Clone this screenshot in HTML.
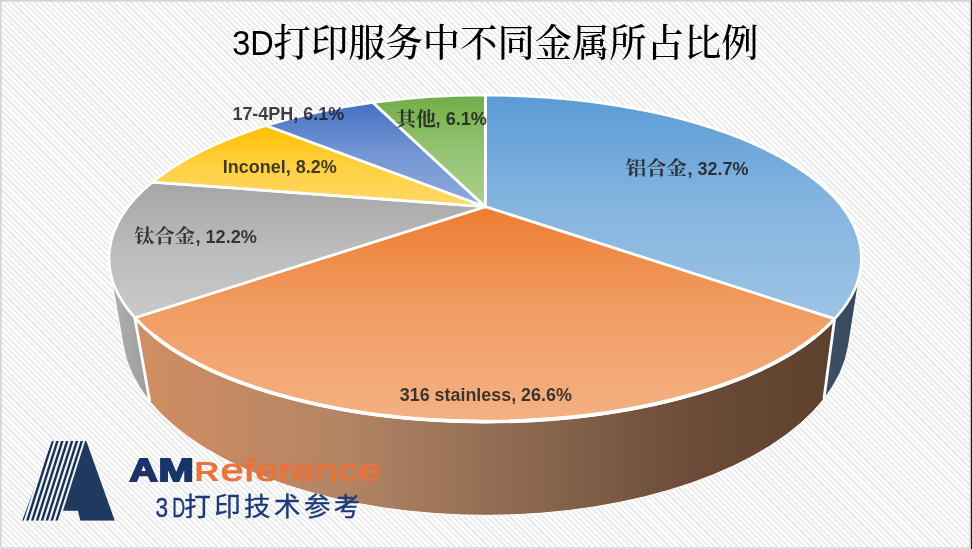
<!DOCTYPE html>
<html lang="zh-CN"><head><meta charset="utf-8"><title>3D打印服务中不同金属所占比例</title>
<style>
html,body{margin:0;padding:0;background:#fff;}
body{width:972px;height:549px;overflow:hidden;position:relative;}
#bg{position:absolute;left:0;top:0;width:972px;height:549px;box-sizing:border-box;
 background:repeating-linear-gradient(45deg,#fdfdfd 0,#fdfdfd 2.4px,#e9e9e9 2.4px,#e9e9e9 4px);
 }
svg{position:absolute;left:0;top:0;}
</style></head><body>
<div id="bg"></div>
<svg width="972" height="549" viewBox="0 0 972 549">
<defs>
<linearGradient id="gblue" x1="0" y1="0" x2="0" y2="1"><stop offset="0" stop-color="#5b9bd5"/><stop offset="0.5" stop-color="#85b5e0"/><stop offset="1" stop-color="#9dc3e6"/></linearGradient>
<linearGradient id="gorange" x1="0" y1="0" x2="0" y2="1"><stop offset="0" stop-color="#ed7d31"/><stop offset="0.5" stop-color="#f19e65"/><stop offset="1" stop-color="#f4b183"/></linearGradient>
<linearGradient id="ggrey" x1="0" y1="0" x2="0" y2="1"><stop offset="0" stop-color="#a5a5a5"/><stop offset="0.5" stop-color="#bcbcbc"/><stop offset="1" stop-color="#c9c9c9"/></linearGradient>
<linearGradient id="gyellow" x1="0" y1="0" x2="0" y2="1"><stop offset="0" stop-color="#ffc000"/><stop offset="0.5" stop-color="#ffd041"/><stop offset="1" stop-color="#ffd966"/></linearGradient>
<linearGradient id="gdblue" x1="0" y1="0" x2="0" y2="1"><stop offset="0" stop-color="#4472c4"/><stop offset="0.5" stop-color="#7496d3"/><stop offset="1" stop-color="#8faadc"/></linearGradient>
<linearGradient id="ggreen" x1="0" y1="0" x2="0" y2="1"><stop offset="0" stop-color="#70ad47"/><stop offset="0.5" stop-color="#94c474"/><stop offset="1" stop-color="#a9d18e"/></linearGradient>
<linearGradient id="sorange" gradientUnits="userSpaceOnUse" x1="140" y1="0" x2="830" y2="0"><stop offset="0" stop-color="#d08e63"/><stop offset="0.3" stop-color="#b38464"/><stop offset="0.55" stop-color="#8d6950"/><stop offset="0.8" stop-color="#6c4c38"/><stop offset="1" stop-color="#5d402d"/></linearGradient>
<linearGradient id="sgrey" gradientUnits="userSpaceOnUse" x1="115" y1="0" x2="155" y2="0"><stop offset="0" stop-color="#adadad"/><stop offset="1" stop-color="#9a9a9a"/></linearGradient>
<linearGradient id="sblue" gradientUnits="userSpaceOnUse" x1="820" y1="0" x2="862" y2="0"><stop offset="0" stop-color="#3f5268"/><stop offset="1" stop-color="#33475c"/></linearGradient>
<clipPath id="aclip"><polygon points="51.9,440.9 86.3,440.9 114.8,520.7 80.3,520.7 77.9,510.7 61.5,510.7 57.8,520.7 22.2,520.7"/></clipPath>
</defs>
<path d="M860.48 269.72 A376.20 163.30 0 0 1 834.58 318.85 L823.92 398.95 A363.87 184.68 0 0 0 848.50 345.78 Z" fill="url(#sblue)" stroke="#fff" stroke-width="1.0" stroke-linejoin="round"/>
<path d="M134.78 317.71 A376.20 163.30 0 0 1 109.92 269.72 L123.20 345.78 A363.87 184.68 0 0 0 149.70 401.36 Z" fill="url(#sgrey)" stroke="#fff" stroke-width="1.0" stroke-linejoin="round"/>
<path d="M834.58 318.85 A376.20 163.30 0 0 1 134.78 317.71 L149.70 401.36 A363.87 184.68 0 0 0 823.92 398.95 Z" fill="url(#sorange)" stroke="#fff" stroke-width="1.0" stroke-linejoin="round"/>
<path d="M834.58 318.85 L823.92 398.95 M134.78 317.71 L149.70 401.36" stroke="#fff" stroke-width="2.8" stroke-linecap="butt" fill="none"/>
<path d="M485.30 206.70 L485.40 95.00 A376.20 163.30 0 0 1 834.58 318.85 Z" fill="url(#gblue)" stroke="#fff" stroke-width="2.7" stroke-linejoin="round"/>
<path d="M485.30 206.70 L834.58 318.85 A376.20 163.30 0 0 1 134.78 317.71 Z" fill="url(#gorange)" stroke="#fff" stroke-width="2.7" stroke-linejoin="round"/>
<path d="M485.30 206.70 L134.78 317.71 A376.20 163.30 0 0 1 152.53 182.05 Z" fill="url(#ggrey)" stroke="#fff" stroke-width="2.7" stroke-linejoin="round"/>
<path d="M485.30 206.70 L152.53 182.05 A376.20 163.30 0 0 1 266.09 125.56 Z" fill="url(#gyellow)" stroke="#fff" stroke-width="2.7" stroke-linejoin="round"/>
<path d="M485.30 206.70 L266.09 125.56 A376.20 163.30 0 0 1 372.89 102.45 Z" fill="url(#gdblue)" stroke="#fff" stroke-width="2.7" stroke-linejoin="round"/>
<path d="M485.30 206.70 L372.89 102.45 A376.20 163.30 0 0 1 485.40 95.00 Z" fill="url(#ggreen)" stroke="#fff" stroke-width="2.7" stroke-linejoin="round"/>
<path d="M815.37 336.57 A376.20 163.30 0 0 1 153.68 335.49 " fill="none" stroke="#fff" stroke-width="3.7"/>
<path d="M834.58 318.85 A376.20 163.30 0 0 1 134.78 317.71 " fill="none" stroke="#fff" stroke-width="3.1"/>
<g clip-path="url(#aclip)"><polygon points="51.9,440.9 86.3,440.9 114.8,520.7 80.3,520.7 77.9,510.7 61.5,510.7 57.8,520.7 22.2,520.7" fill="#eef3fa"/><polygon points="16.34,520.7 18.84,520.7 44.14,440.9 41.64,440.9" fill="#1b3150"/><polygon points="21.21,520.7 23.71,520.7 49.01,440.9 46.51,440.9" fill="#1b3150"/><polygon points="26.08,520.7 28.58,520.7 53.88,440.9 51.38,440.9" fill="#1b3150"/><polygon points="30.95,520.7 33.45,520.7 58.75,440.9 56.25,440.9" fill="#1b3150"/><polygon points="35.82,520.7 38.32,520.7 63.62,440.9 61.12,440.9" fill="#1b3150"/><polygon points="40.69,520.7 43.19,520.7 68.49,440.9 65.99,440.9" fill="#1b3150"/><polygon points="45.56,520.7 48.06,520.7 73.36,440.9 70.86,440.9" fill="#1b3150"/><polygon points="50.43,520.7 52.93,520.7 78.23,440.9 75.73,440.9" fill="#1b3150"/><polygon points="55.30,520.7 57.80,520.7 83.10,440.9 80.60,440.9" fill="#1b3150"/><polygon points="59.87,520.7 120,520.7 120,440.9 85.17,440.9" fill="#1e3a5f"/></g>
<text y="56.2" fill="#000"><tspan x="232.2" y="54.9" font-size="34.4" font-family='"Liberation Sans", sans-serif' textLength="41.5" lengthAdjust="spacingAndGlyphs">3D</tspan><tspan x="273.6" y="56.2" font-size="37.8" font-weight="500" font-family='"Liberation Serif", "Noto Serif CJK SC", serif' textLength="485" lengthAdjust="spacingAndGlyphs">打印服务中不同金属所占比例</tspan></text>
<text fill="#1c1c1c" fill-opacity="0.84"><tspan x="232.4" y="119.5" font-size="17.6" font-weight="bold" font-family='"Liberation Sans", sans-serif' textLength="111.8" lengthAdjust="spacingAndGlyphs">17-4PH, 6.1%</tspan></text>
<text fill="#1c1c1c" fill-opacity="0.84"><tspan x="222.8" y="172.6" font-size="17.6" font-weight="bold" font-family='"Liberation Sans", sans-serif' textLength="114.0" lengthAdjust="spacingAndGlyphs">Inconel, 8.2%</tspan></text>
<text fill="#1c1c1c" fill-opacity="0.84"><tspan x="399.8" y="401.0" font-size="17.6" font-weight="bold" font-family='"Liberation Sans", sans-serif' textLength="172" lengthAdjust="spacingAndGlyphs">316 stainless, 26.6%</tspan></text>
<text fill="#1c1c1c" fill-opacity="0.84"><tspan x="395.8" y="125.6" font-size="19.6" font-weight="700" font-family='"Liberation Serif", "Noto Serif CJK SC", serif' textLength="40.2" lengthAdjust="spacingAndGlyphs">其他</tspan><tspan x="435.6" y="125.3" font-size="17.6" font-weight="bold" font-family='"Liberation Sans", sans-serif' textLength="51.3" lengthAdjust="spacingAndGlyphs">, 6.1%</tspan></text>
<text fill="#1c1c1c" fill-opacity="0.84"><tspan x="134.2" y="242.6" font-size="19.6" font-weight="700" font-family='"Liberation Serif", "Noto Serif CJK SC", serif' textLength="60.8" lengthAdjust="spacingAndGlyphs">钛合金</tspan><tspan x="195.4" y="242.6" font-size="17.6" font-weight="bold" font-family='"Liberation Sans", sans-serif' textLength="61.6" lengthAdjust="spacingAndGlyphs">, 12.2%</tspan></text>
<text fill="#1c1c1c" fill-opacity="0.84"><tspan x="625.8" y="174.8" font-size="19.6" font-weight="700" font-family='"Liberation Serif", "Noto Serif CJK SC", serif' textLength="61.2" lengthAdjust="spacingAndGlyphs">铝合金</tspan><tspan x="687.6" y="174.6" font-size="17.6" font-weight="bold" font-family='"Liberation Sans", sans-serif' textLength="60.9" lengthAdjust="spacingAndGlyphs">, 32.7%</tspan></text>
<text y="481" font-size="30.7" font-weight="bold" fill="#1a3468" stroke="#1a3468" stroke-width="1.8" stroke-linejoin="miter" font-family='"Liberation Sans", sans-serif'><tspan x="129.6" textLength="28.2" lengthAdjust="spacingAndGlyphs">A</tspan><tspan x="158.6" textLength="35.3" lengthAdjust="spacingAndGlyphs">M</tspan></text>
<text y="481" fill="#e9733a" font-family='"Liberation Sans", sans-serif'><tspan x="194.2" font-size="27" font-weight="bold" textLength="25" lengthAdjust="spacingAndGlyphs">R</tspan><tspan x="220.8" font-size="31" stroke="#e9733a" stroke-width="1.0" textLength="160.5" lengthAdjust="spacingAndGlyphs">eference</tspan></text>
<text fill="#1c3a78" stroke="#1c3a78" font-family='"Liberation Sans", "Noto Sans CJK SC", sans-serif'><tspan x="155.4" y="517" font-size="28.4" stroke-width="0.4" textLength="12.6" lengthAdjust="spacingAndGlyphs">3</tspan><tspan x="172.3" y="517" font-size="28.4" stroke-width="0.4" textLength="13" lengthAdjust="spacingAndGlyphs">D</tspan><tspan x="184.2 214.2 244.1 273.9 303.9 333.8" y="516.2" font-size="26.5" stroke-width="0.35">打印技术参考</tspan></text>
<rect x="0" y="0" width="972" height="1.6" fill="#d3d3d3"/><rect x="0" y="0" width="1.6" height="549" fill="#d5d5d5"/><rect x="0" y="547" width="972" height="2" fill="#dedede"/><rect x="969.6" y="0" width="1.4" height="549" fill="#cfcfcf"/><rect x="971" y="0" width="1" height="549" fill="#111"/>
</svg>
</body></html>
